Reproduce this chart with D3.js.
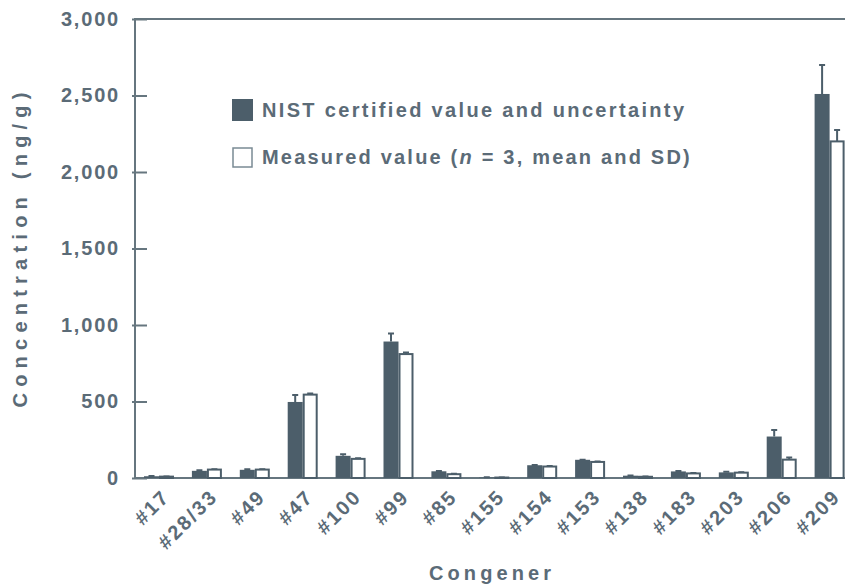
<!DOCTYPE html>
<html>
<head>
<meta charset="utf-8">
<script src="https://cdn.jsdelivr.net/npm/d3@7"></script>
<style>
  body { margin: 0; background: #fff; }
  text { font-family: "Liberation Sans", Arial, sans-serif; font-weight: bold; fill: #5b6b77; }
</style>
</head>
<body>
<div id="chart"></div>
<script>
// congeners and values (ng/g)
var congeners = ["#17", "#28/33", "#49", "#47", "#100", "#99", "#85", "#155", "#154", "#153", "#138", "#183", "#203", "#206", "#209"];
var nistValue = [11.5, 46.9, 53.5, 497, 145, 892, 43.8, 4, 83.5, 119, 15.2, 43, 36.7, 271, 2510];
var nistUnc = [1.2, 4.4, 4.2, 46, 11, 53, 1.6, 0.5, 2, 1, 1.2, 3.5, 3.6, 42, 190];
var measValue = [9, 55, 55, 545, 125, 810, 25, 3, 75, 105, 8, 30, 35, 120, 2200];
var measSD = [1, 3, 3, 8, 4, 10, 2, 0.5, 3, 3, 1, 2, 2, 14, 75];
var yTicks = [0, 500, 1000, 1500, 2000, 2500, 3000];

var W = 845, H = 586;
var margin = { top: 19, left: 135, bottom: 108 };
var plotBottom = H - margin.bottom; // 478
var ink = "#4c5e6a";
var axisInk = "#66767f";

var svg = d3.select('#chart').append('svg')
    .attr('width', W)
    .attr('height', H);

var x = d3.scaleBand()
    .domain(congeners)
    .range([margin.left, margin.left + 15 * 47.9]);

var x1 = d3.scaleBand()
    .domain(["nist", "meas"])
    .range([9, 39]);

var y = d3.scaleLinear()
    .domain([0, 3000])
    .range([plotBottom, margin.top]);

// frame
svg.append("path")
    .attr("d", "M" + (W + 5) + "," + margin.top + "H" + margin.left + "V" + plotBottom + "H" + (W + 5))
    .attr("fill", "none")
    .attr("stroke", axisInk)
    .attr("stroke-width", 2);

// y axis
var yAxis = d3.axisLeft(y)
    .tickValues(yTicks)
    .tickFormat(d3.format(","))
    .tickSizeInner(-12)
    .tickSizeOuter(0)
    .tickPadding(15);

var gy = svg.append("g")
    .attr("transform", "translate(" + margin.left + ",0)")
    .call(yAxis);
gy.select(".domain").remove();
gy.selectAll(".tick line")
    .attr("x1", -3)
    .attr("stroke", axisInk)
    .attr("stroke-width", 2);
gy.selectAll(".tick text")
    .attr("font-size", 20)
    .attr("letter-spacing", 1.8)
    .attr("fill", "#5b6b77");

// x labels
svg.append("g").selectAll("text")
    .data(congeners)
    .enter().append("text")
    .attr("transform", function(d) {
      return "translate(" + (x(d) + 31) + "," + (plotBottom + 15) + ") rotate(-45)";
    })
    .attr("text-anchor", "end")
    .attr("dy", "0.35em")
    .attr("font-size", 20)
    .attr("letter-spacing", 2.2)
    .text(function(d) { return d; });

// axis titles
svg.append("text")
    .attr("transform", "translate(27,250) rotate(-90)")
    .attr("text-anchor", "middle")
    .attr("font-size", 20)
    .attr("textLength", 315)
    .attr("lengthAdjust", "spacing")
    .text("Concentration (ng/g)");

svg.append("text")
    .attr("x", 490)
    .attr("y", 580)
    .attr("text-anchor", "middle")
    .attr("font-size", 20)
    .attr("textLength", 122)
    .attr("lengthAdjust", "spacing")
    .text("Congener");

// bars
var rows = congeners.map(function(c, i) {
  return [
    { key: "nist", c: c, v: nistValue[i], e: nistUnc[i] },
    { key: "meas", c: c, v: measValue[i], e: measSD[i] }
  ];
});

var groups = svg.append("g").selectAll("g")
    .data(rows)
    .enter().append("g")
    .attr("transform", function(d) { return "translate(" + x(d[0].c) + ",0)"; });

var bw = x1.bandwidth();

// error bars (upper side only)
groups.selectAll(".err")
    .data(function(d) { return d; })
    .enter().append("path")
    .attr("class", "err")
    .attr("d", function(d) {
      var cx = x1(d.key) + bw / 2;
      var top = y(d.v + d.e);
      return "M" + cx + "," + y(d.v) + "V" + top + "M" + (cx - 3) + "," + top + "H" + (cx + 3);
    })
    .attr("stroke", ink)
    .attr("stroke-width", 2)
    .attr("fill", "none");

groups.selectAll("rect")
    .data(function(d) { return d; })
    .enter().append("rect")
    .attr("x", function(d) { return x1(d.key) + (d.key == "meas" ? 1 : 0); })
    .attr("y", function(d) { return y(d.v); })
    .attr("width", function(d) { return d.key == "meas" ? bw - 2 : bw; })
    .attr("height", function(d) { return plotBottom - y(d.v); })
    .attr("fill", function(d) { return d.key == "nist" ? ink : "#fff"; })
    .attr("stroke", function(d) { return d.key == "nist" ? "none" : ink; })
    .attr("stroke-width", 2);

// legend
var legend = svg.append("g");
legend.append("rect")
    .attr("x", 232).attr("y", 99).attr("width", 21).attr("height", 22)
    .attr("fill", ink);
legend.append("text")
    .attr("x", 262).attr("y", 117)
    .attr("font-size", 20)
    .attr("textLength", 422)
    .attr("lengthAdjust", "spacing")
    .text("NIST certified value and uncertainty");

legend.append("rect")
    .attr("x", 233).attr("y", 148).attr("width", 19).attr("height", 19)
    .attr("fill", "#fff")
    .attr("stroke", "#7a8a94")
    .attr("stroke-width", 1.5);
var t2 = legend.append("text")
    .attr("x", 262).attr("y", 164)
    .attr("font-size", 20)
    .attr("letter-spacing", 2.2);
t2.append("tspan").text("Measured value (");
t2.append("tspan").attr("font-style", "italic").text("n");
t2.append("tspan").text(" = 3, mean and SD)");
</script>
</body>
</html>
